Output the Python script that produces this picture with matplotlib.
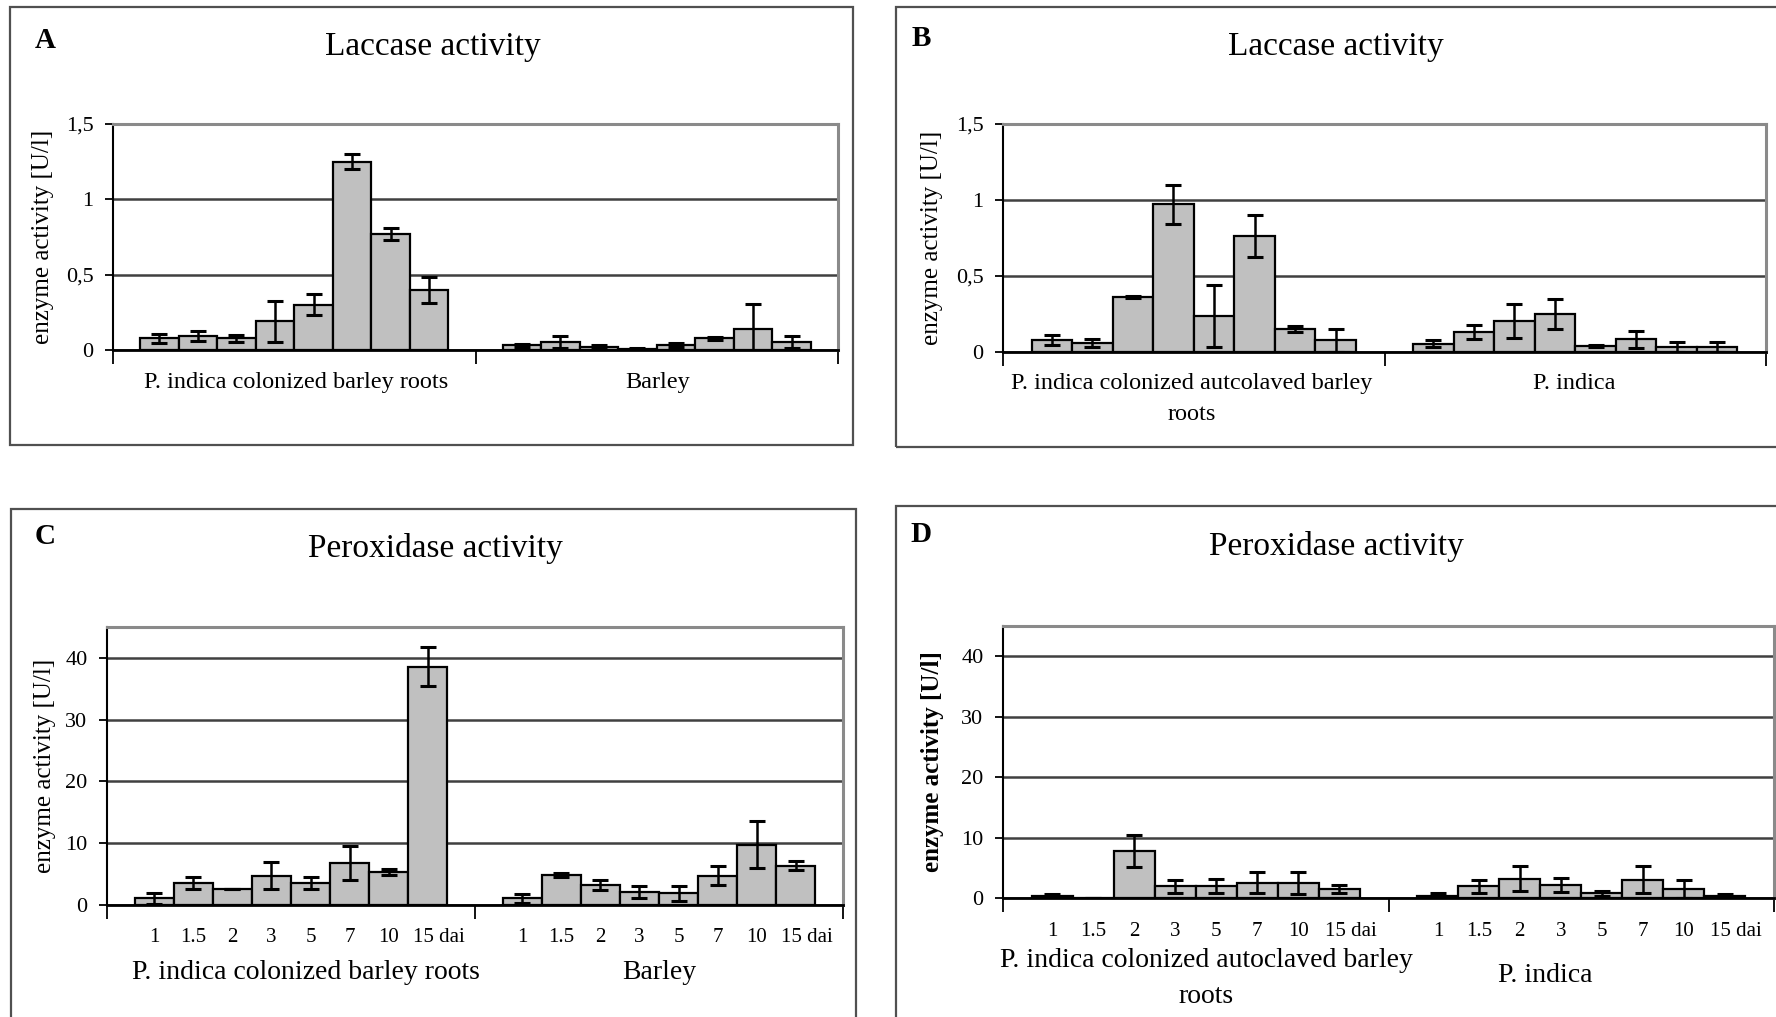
import matplotlib
matplotlib.use('Agg')
import matplotlib.pyplot as plt
from matplotlib.patches import Rectangle
from matplotlib.transforms import blended_transform_factory
import numpy as np

plt.rcParams['font.family'] = ['Liberation Serif', 'DejaVu Serif']

W, H = 1776, 1017

dias = ['1', '1.5', '2', '3', '5', '7', '10', '15 dai']

# A - laccase, colonized roots / barley
lac_a_grupos = ['P. indica colonized barley roots', 'Barley']
lac_a_col = [0.078, 0.093, 0.078, 0.19, 0.30, 1.25, 0.77, 0.40]
lac_a_col_err = [0.03, 0.03, 0.022, 0.135, 0.07, 0.05, 0.04, 0.085]
lac_a_bar = [0.033, 0.05, 0.02, 0.005, 0.033, 0.078, 0.137, 0.05]
lac_a_bar_err = [0.01, 0.04, 0.01, 0.005, 0.012, 0.01, 0.17, 0.04]

# B - laccase, autoclaved roots / P. indica
lac_b_grupos = ['P. indica colonized autcolaved barley\nroots', 'P. indica']
lac_b_aut = [0.077, 0.06, 0.363, 0.972, 0.235, 0.763, 0.15, 0.077]
lac_b_aut_err = [0.032, 0.025, 0.005, 0.127, 0.205, 0.137, 0.02, 0.075]
lac_b_pi = [0.055, 0.132, 0.205, 0.25, 0.04, 0.084, 0.033, 0.033]
lac_b_pi_err = [0.022, 0.044, 0.11, 0.1, 0.005, 0.055, 0.03, 0.036]

# C - peroxidase, colonized roots / barley
per_c_grupos = ['P. indica colonized barley roots', 'Barley']
per_c_col = [1.08, 3.56, 2.6, 4.74, 3.56, 6.8, 5.4, 38.6]
per_c_col_err = [0.85, 0.9, 0.0, 2.2, 0.9, 2.75, 0.5, 3.1]
per_c_bar = [1.08, 4.9, 3.2, 2.1, 1.9, 4.74, 9.76, 6.36]
per_c_bar_err = [0.7, 0.3, 0.85, 0.95, 1.25, 1.5, 3.85, 0.7]

# D - peroxidase, autoclaved roots / P. indica
per_d_grupos = ['P. indica colonized autoclaved barley\nroots', 'P. indica']
per_d_aut = [0.4, 0.0, 7.8, 1.95, 1.95, 2.5, 2.5, 1.5]
per_d_aut_err = [0.3, 0.0, 2.6, 1.1, 1.2, 1.75, 1.8, 0.65]
per_d_pi = [0.4, 1.95, 3.2, 2.2, 0.8, 3.05, 1.5, 0.4]
per_d_pi_err = [0.5, 1.1, 2.1, 1.15, 0.4, 2.2, 1.5, 0.2]

lac_ticks = [0, 0.5, 1, 1.5]
lac_ticklabels = ['0', '0,5', '1', '1,5']
per_ticks = [0, 10, 20, 30, 40]
per_ticklabels = ['0', '10', '20', '30', '40']


def caixa(x0, y0, x1, y1):
    # pixel box (from top-left) -> figure fraction rect
    return [x0 / W, 1 - y1 / H, (x1 - x0) / W, (y1 - y0) / H]


def painel(fig, box, letra, letra_xy, titulo, titulo_xy, valores, erros, ylim,
           ticks, ticklabels, ylabel_x, ylabel_bold, grupos, grupos_xy,
           grupo_fs, mostrar_dias=False, dias_y=None):
    ax = fig.add_axes(caixa(*box))
    ax.set_xlim(-0.5, 1.5)
    ax.set_ylim(*ylim)
    trans = blended_transform_factory(ax.transData, fig.transFigure)
    n = len(valores[0])
    w = 0.85 / n
    for g, (vals, errs) in enumerate(zip(valores, erros)):
        x = g + (np.arange(n) - (n - 1) / 2) * w
        ax.bar(x, vals, width=w, color='#c0c0c0', edgecolor='black', linewidth=1.6, zorder=3)
        ax.errorbar(x, vals, yerr=errs, fmt='none', ecolor='black', elinewidth=1.8,
                    capsize=6, capthick=2.2, zorder=4)
        if mostrar_dias:
            for i, d in enumerate(dias):
                dx = 0.03 if d.endswith('dai') else 0
                ax.text(x[i] + dx, 1 - dias_y / H, d, transform=trans,
                        ha='center', va='center', fontsize=15)
    ax.set_yticks(ticks)
    ax.set_yticklabels(ticklabels, fontsize=16)
    ax.set_xticks([-0.5, 0.5, 1.5])
    ax.set_xticklabels([])
    ax.tick_params(axis='x', direction='out', length=10, width=1.3)
    ax.tick_params(axis='y', direction='out', length=6, width=1.3, pad=8)
    ax.grid(axis='y', color='#404040', linewidth=1.8, zorder=0)
    ax.set_axisbelow(True)
    for s in ['top', 'right']:
        ax.spines[s].set_color('#8a8a8a')
        ax.spines[s].set_linewidth(2.2)
    ax.spines['left'].set_linewidth(1.5)
    ax.spines['bottom'].set_linewidth(2.0)

    cy = (box[1] + box[3]) / 2
    fig.text(ylabel_x / W, 1 - cy / H, 'enzyme activity [U/l]', rotation=90,
             ha='center', va='center', fontsize=18,
             fontweight='bold' if ylabel_bold else 'normal')
    fig.text(letra_xy[0] / W, 1 - letra_xy[1] / H, letra, fontsize=21,
             fontweight='bold', ha='center', va='center')
    fig.text(titulo_xy[0] / W, 1 - titulo_xy[1] / H, titulo, fontsize=24,
             ha='center', va='center')
    for txt, (gx, gy) in zip(grupos, grupos_xy):
        fig.text(gx / W, 1 - gy / H, txt, fontsize=grupo_fs, ha='center', va='top',
                 linespacing=1.6)
    return ax


fig = plt.figure(figsize=(W / 100, H / 100), dpi=100)

# panel frames
for x0, y0, x1, y1 in [(10, 7, 853, 445), (896, 7, 1790, 447),
                       (11, 509, 856, 1030), (896, 506, 1790, 1030)]:
    fig.patches.append(Rectangle((x0 / W, 1 - y1 / H), (x1 - x0) / W, (y1 - y0) / H,
                                 transform=fig.transFigure, fill=False,
                                 edgecolor='#505050', linewidth=1.6))

painel(fig, (113, 124, 838, 350), 'A', (45, 40), 'Laccase activity', (433, 47),
       [lac_a_col, lac_a_bar], [lac_a_col_err, lac_a_bar_err], (0, 1.5),
       lac_ticks, lac_ticklabels, 43, False, lac_a_grupos,
       [(296, 372), (658, 372)], 17.5)

painel(fig, (1003, 124, 1766, 352), 'B', (921, 38), 'Laccase activity', (1336, 47),
       [lac_b_aut, lac_b_pi], [lac_b_aut_err, lac_b_pi_err], (0, 1.5),
       lac_ticks, lac_ticklabels, 932, False, lac_b_grupos,
       [(1192, 373), (1574, 373)], 17.5)

painel(fig, (107, 627, 843, 905), 'C', (45, 536), 'Peroxidase activity', (435, 548),
       [per_c_col, per_c_bar], [per_c_col_err, per_c_bar_err], (0, 45),
       per_ticks, per_ticklabels, 45, False, per_c_grupos,
       [(306, 960), (659, 960)], 20, True, 937)

painel(fig, (1003, 626, 1774, 898), 'D', (921, 535), 'Peroxidase activity', (1336, 547),
       [per_d_aut, per_d_pi], [per_d_aut_err, per_d_pi_err], (0, 45),
       per_ticks, per_ticklabels, 932, True, per_d_grupos,
       [(1206, 948), (1545, 963)], 20, True, 932)

plt.savefig('out.png', dpi=100)
plt.close()
